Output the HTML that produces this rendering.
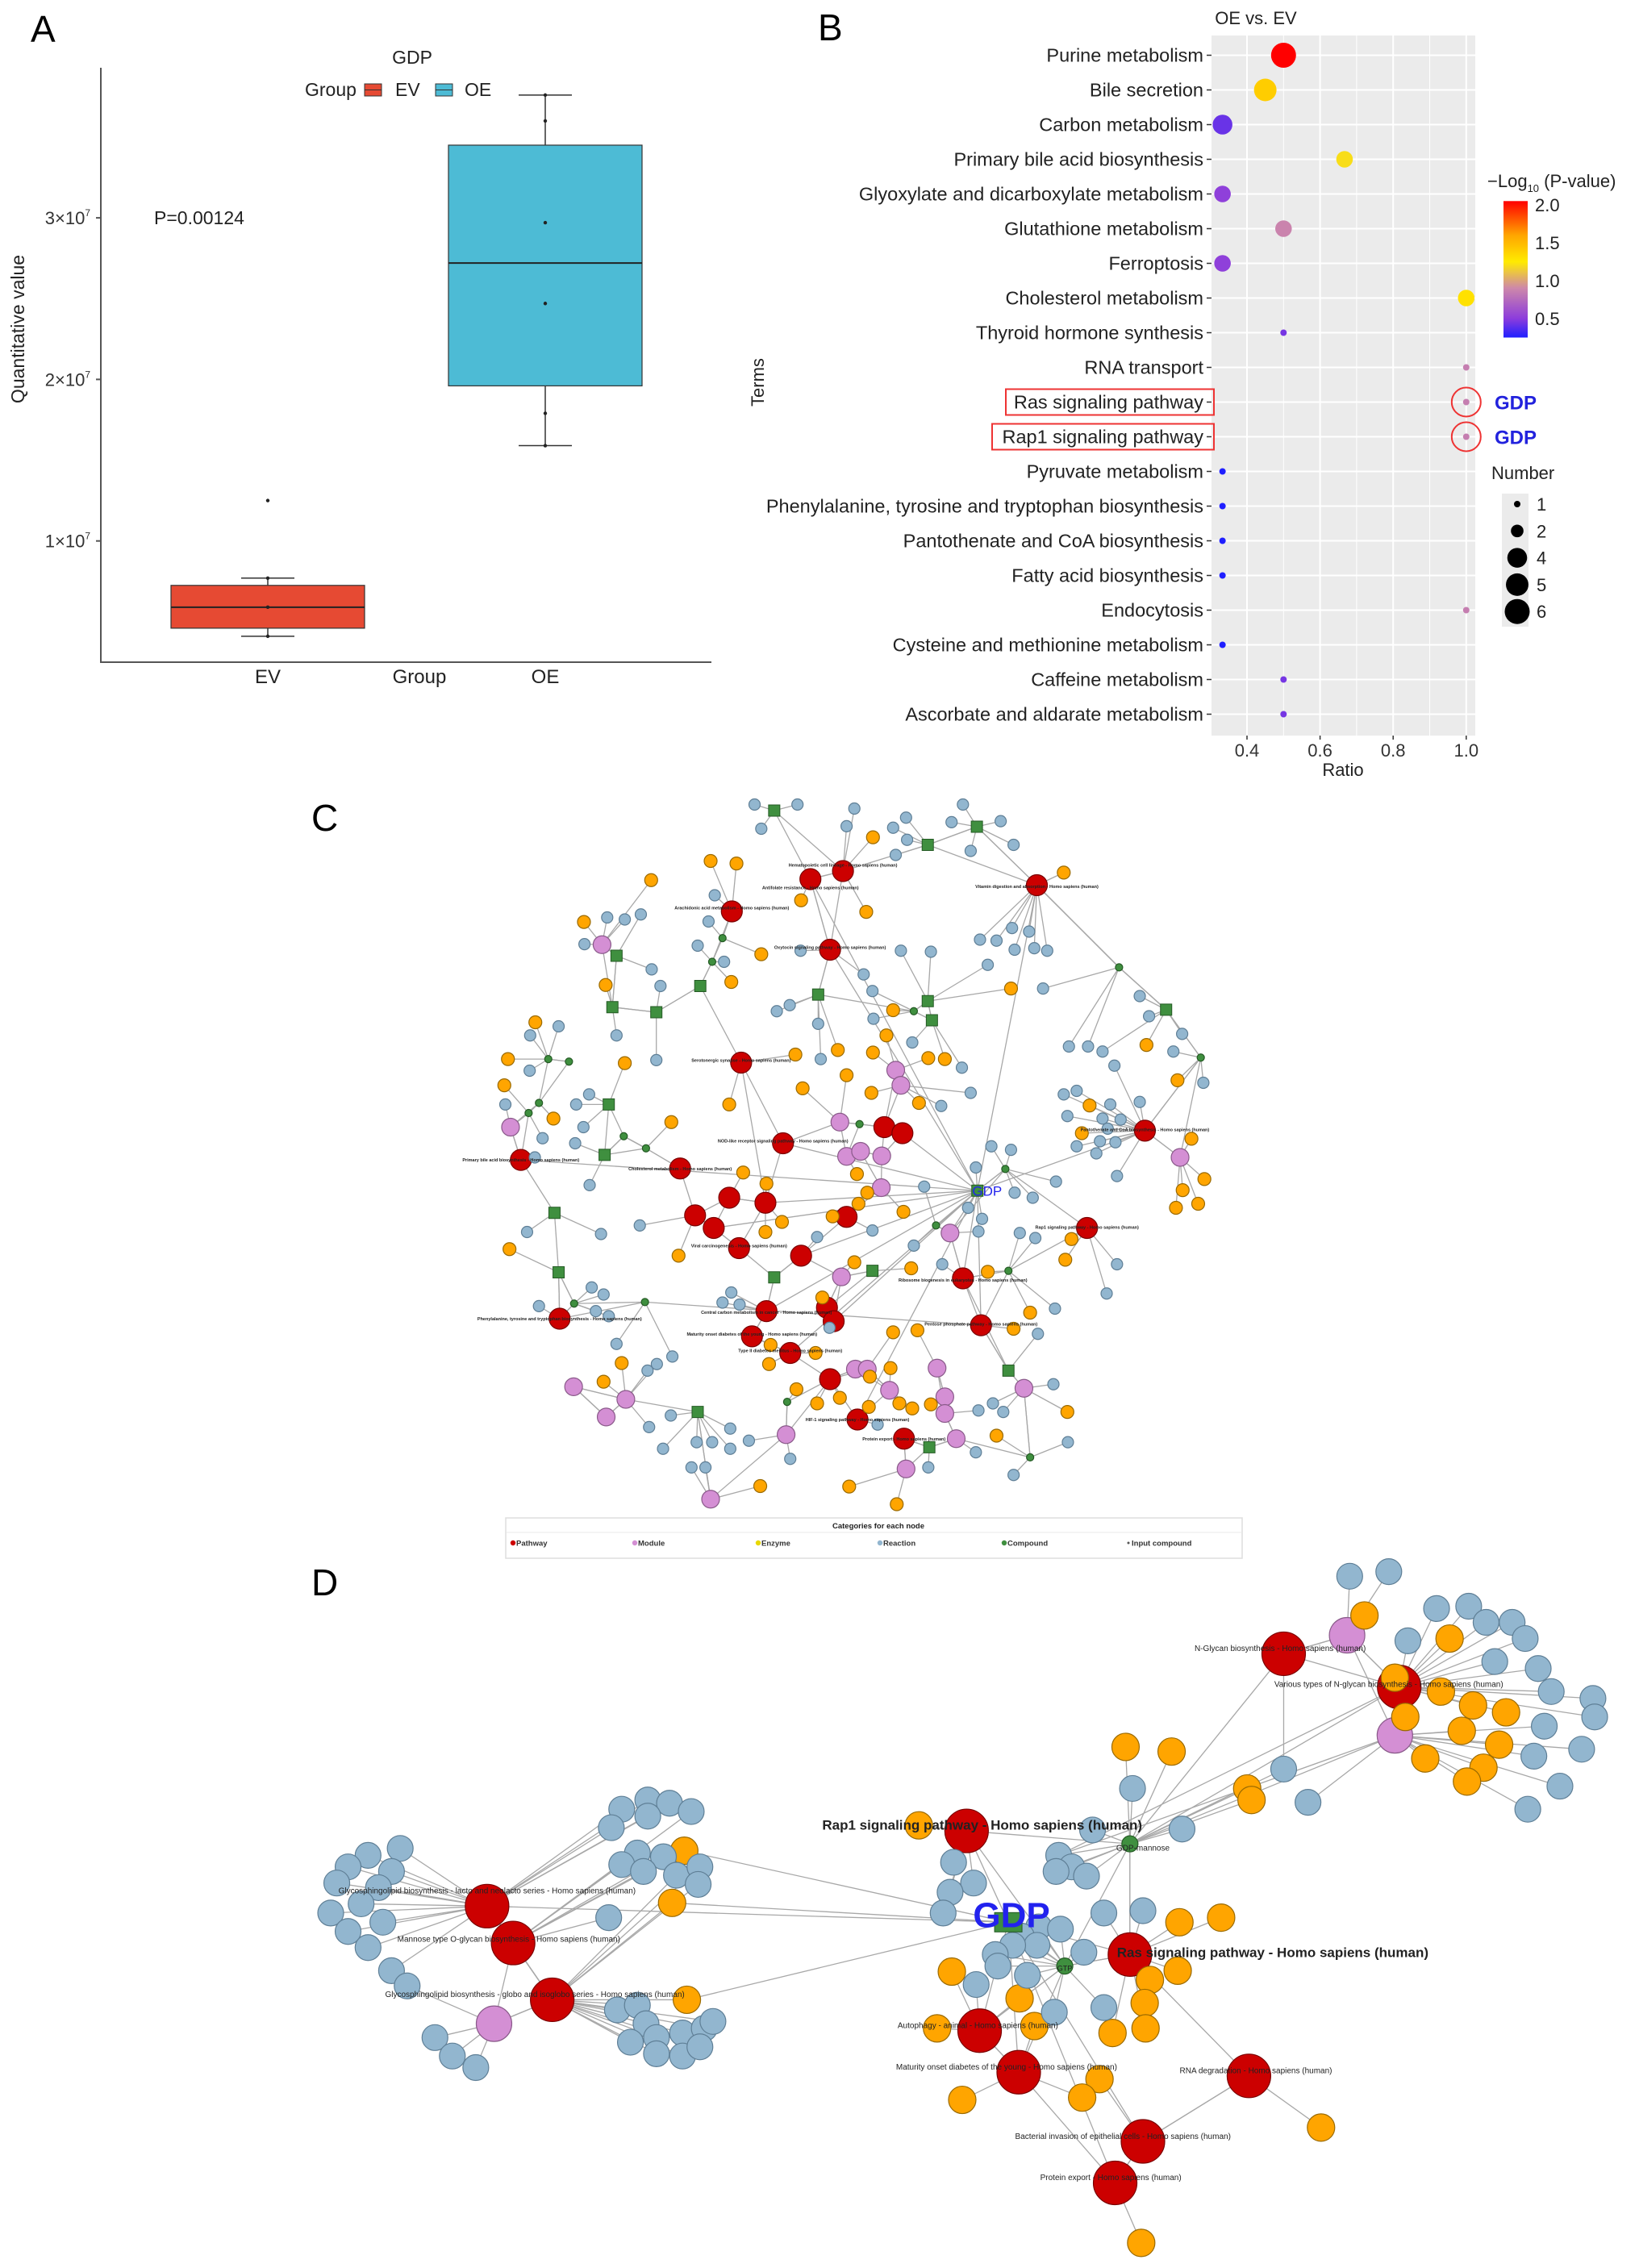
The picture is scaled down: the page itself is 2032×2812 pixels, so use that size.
<!DOCTYPE html>
<html><head><meta charset="utf-8"><style>
html,body{margin:0;padding:0;background:#fff}
svg{display:block;font-family:"Liberation Sans",sans-serif}
</style></head><body>
<svg id="fig" width="2032" height="2812" viewBox="0 0 2032 2812" xmlns="http://www.w3.org/2000/svg">
<rect width="2032" height="2812" fill="#fff"/>
<g id="pA"></g>
<g id="pB"></g>
<g id="pC"></g>
<g id="pD"></g>
</svg>
<script>
// ---------- Panel A data ----------
const groups = ["EV","OE"];
const boxQ1 = [4.6, 19.6];
const boxMedian = [5.9, 27.2];
const boxQ3 = [7.25, 34.5];
const whiskerLow = [4.1, 15.9];
const whiskerHigh = [7.7, 37.6];
const evPoints = [4.1, 5.9, 7.7, 12.5];
const oePoints = [17.9, 24.7, 29.7, 36.0, 37.6, 15.9];
const yTicksA = [10, 20, 30];
const yTickLabelsA = ["1×10", "2×10", "3×10"];

// ---------- Panel B data ----------
const terms = ["Purine metabolism","Bile secretion","Carbon metabolism","Primary bile acid biosynthesis","Glyoxylate and dicarboxylate metabolism","Glutathione metabolism","Ferroptosis","Cholesterol metabolism","Thyroid hormone synthesis","RNA transport","Ras signaling pathway","Rap1 signaling pathway","Pyruvate metabolism","Phenylalanine, tyrosine and tryptophan biosynthesis","Pantothenate and CoA biosynthesis","Fatty acid biosynthesis","Endocytosis","Cysteine and methionine metabolism","Caffeine metabolism","Ascorbate and aldarate metabolism"];
const ratios = [0.5,0.45,0.333,0.667,0.333,0.5,0.333,1.0,0.5,1.0,1.0,1.0,0.333,0.333,0.333,0.333,1.0,0.333,0.5,0.5];
const logP = [2.05,1.4,0.42,1.2,0.52,0.88,0.52,1.3,0.45,0.85,0.85,0.85,0.25,0.25,0.25,0.25,0.85,0.25,0.45,0.45];
const counts = [6,5,4,3,3,3,3,3,1,1,1,1,1,1,1,1,1,1,1,1];
const xTicksB = [0.4,0.6,0.8,1.0];
const xTickLabelsB = ["0.4","0.6","0.8","1.0"];
const cbTicks = [0.5,1.0,1.5,2.0];
const sizeLegend = [1,2,4,5,6];

const NS="http://www.w3.org/2000/svg";
function mk(tag, attrs, parent, text){
  const e=document.createElementNS(NS,tag);
  for(const k in attrs) e.setAttribute(k, attrs[k]);
  if(text!==undefined) e.textContent=text;
  parent.appendChild(e); return e;
}

// ================= PANEL A =================
(function(){
  const g=document.getElementById('pA');
  const yA=v=>871 - v*20.03;
  const xA=i=>[332,676][i];
  let t=mk('text',{x:38,y:52,'font-size':46},g,'A');
   
  let ax=mk('path',{d:'M125 84 V821 H882',fill:'none',stroke:'#555','stroke-width':2},g);
   
  yTicksA.forEach((v,i)=>{
    const tx=mk('text',{x:112,y:yA(v)+8,'font-size':22,'text-anchor':'end',fill:'#333'},g);
     
    tx.textContent=yTickLabelsA[i];
    mk('tspan',{'font-size':12,dy:-10},tx,'7');
    mk('line',{x1:119,x2:125,y1:yA(v),y2:yA(v),stroke:'#555','stroke-width':2},g);
  });
  t=mk('text',{x:30,y:408,'font-size':23,'text-anchor':'middle',fill:'#222',transform:'rotate(-90 30 408)'},g,'Quantitative value');
   
  t=mk('text',{x:191,y:278,'font-size':23,fill:'#222'},g,'P=0.00124');
   
  const fills=['#e64a33','#4dbbd5'];
  groups.forEach((gname,i)=>{
    const x=xA(i);
    const wl=mk('line',{x1:x,x2:x,y1:yA(whiskerLow[i]),y2:yA(whiskerHigh[i]),stroke:'#333','stroke-width':1.5},g);
     
    [whiskerLow[i],whiskerHigh[i]].forEach(v=>mk('line',{x1:x-33,x2:x+33,y1:yA(v),y2:yA(v),stroke:'#333','stroke-width':1.5},g));
    const b=mk('rect',{x:x-120,y:yA(boxQ3[i]),width:240,height:yA(boxQ1[i])-yA(boxQ3[i]),fill:fills[i],stroke:'#333','stroke-width':1.2},g);
     
    mk('line',{x1:x-120,x2:x+120,y1:yA(boxMedian[i]),y2:yA(boxMedian[i]),stroke:'#222','stroke-width':2},g);
    const lab=mk('text',{x:x,y:847,'font-size':24,'text-anchor':'middle',fill:'#222'},g,gname);
     
  });
  evPoints.forEach(v=>{const c=mk('circle',{cx:xA(0),cy:yA(v),r:2.2,fill:'#222'},g);});
  oePoints.forEach(v=>{const c=mk('circle',{cx:xA(1),cy:yA(v),r:2.2,fill:'#222'},g);});
  t=mk('text',{x:520,y:847,'font-size':24,'text-anchor':'middle',fill:'#222'},g,'Group');
   
  t=mk('text',{x:511,y:79,'font-size':23,'text-anchor':'middle',fill:'#222'},g,'GDP');
   
  t=mk('text',{x:378,y:119,'font-size':23,fill:'#222'},g,'Group');
   
  [[452,'#e64a33','EV',490],[540,'#4dbbd5','OE',576]].forEach(a=>{
    const k=mk('rect',{x:a[0],y:104,width:21,height:15,fill:a[1],stroke:'#333'},g);
     
    mk('line',{x1:a[0],x2:a[0]+21,y1:111.5,y2:111.5,stroke:'#333'},g);
    const tt=mk('text',{x:a[3],y:119,'font-size':23,fill:'#222'},g,a[2]);
     
  });
})();

// ================= PANEL B =================
(function(){
  const g=document.getElementById('pB');
  const xB=v=>1546+(v-0.4)*453;
  const yB=i=>68.5+i*43;
  const rB=n=>Math.sqrt(-28.8+44.8*n);
  const stops=[[0.25,[31,31,255]],[0.5,[140,60,220]],[0.9,[205,135,170]],[1.25,[255,235,0]],[1.6,[255,165,0]],[2.05,[255,0,0]]];
  function col(v){
    if(v<=stops[0][0]) return 'rgb('+stops[0][1]+')';
    for(let i=1;i<stops.length;i++){ if(v<=stops[i][0]){const a=stops[i-1],b=stops[i],f=(v-a[0])/(b[0]-a[0]);
      return 'rgb('+a[1].map((c,j)=>Math.round(c+(b[1][j]-c)*f)).join(',')+')';}}
    return 'rgb(255,0,0)';
  }
  let t=mk('text',{x:1014,y:50,'font-size':46},g,'B');
   
  t=mk('text',{x:1557,y:30,'font-size':22,'text-anchor':'middle',fill:'#222'},g,'OE vs. EV');
   
  const bg=mk('rect',{x:1502,y:44,width:327,height:868,fill:'#ebebeb'},g);
   
  [0.3,0.5,0.7,0.9].forEach(v=>mk('line',{x1:xB(v),x2:xB(v),y1:44,y2:912,stroke:'#fff','stroke-width':1},g));
  xTicksB.forEach((v,i)=>{
    mk('line',{x1:xB(v),x2:xB(v),y1:44,y2:912,stroke:'#fff','stroke-width':2},g);
    mk('line',{x1:xB(v),x2:xB(v),y1:912,y2:917,stroke:'#333','stroke-width':1.5},g);
    const tl=mk('text',{x:xB(v),y:938,'font-size':22,'text-anchor':'middle',fill:'#333'},g,xTickLabelsB[i]);
     
  });
  t=mk('text',{x:1665,y:962,'font-size':22,'text-anchor':'middle',fill:'#222'},g,'Ratio');
   
  t=mk('text',{x:947,y:474,'font-size':22,'text-anchor':'middle',fill:'#222',transform:'rotate(-90 947 474)'},g,'Terms');
   
  terms.forEach((term,i)=>{
    const y=yB(i);
    mk('line',{x1:1502,x2:1829,y1:y,y2:y,stroke:'#fff','stroke-width':2},g);
    mk('line',{x1:1496,x2:1502,y1:y,y2:y,stroke:'#333','stroke-width':1.5},g);
    const tl=mk('text',{x:1492,y:y+8,'font-size':23.5,'text-anchor':'end',fill:'#222'},g,term);
     
  });
  terms.forEach((term,i)=>{
    const c=mk('circle',{cx:xB(ratios[i]),cy:yB(i),r:rB(counts[i]),fill:col(logP[i])},g);
     
  });
  [10,11].forEach(i=>{
    const y=yB(i);
    const bx=i===10?1247:1230;
    const r=mk('rect',{x:bx,y:y-16,width:1505-bx,height:32,fill:'none',stroke:'#e33','stroke-width':2},g);
     
    const c=mk('circle',{cx:xB(ratios[i]),cy:y,r:18,fill:'none',stroke:'#e33','stroke-width':2},g);
     
    const gt=mk('text',{x:1853,y:y+9,'font-size':24,'font-weight':'bold',fill:'#2222dd'},g,'GDP');
     
  });
  const defs=mk('defs',{},g);
  const lg=mk('linearGradient',{id:'cbg',x1:0,y1:1,x2:0,y2:0},defs);
  const vmin=0.25,vmax=2.05;
  stops.forEach(s=>mk('stop',{offset:(s[0]-vmin)/(vmax-vmin),'stop-color':'rgb('+s[1]+')'},lg));
  const cbY=v=>395-(v-0.5)*(141/1.5);
  t=mk('text',{x:1844,y:232,'font-size':22,fill:'#222'},g,'−Log');
   
  mk('tspan',{'font-size':13,dy:6},t,'10');
  mk('tspan',{dy:-6},t,' (P-value)');
  const cb=mk('rect',{x:1864,y:cbY(vmax),width:30,height:cbY(vmin)-cbY(vmax),fill:'url(#cbg)'},g);
   
  cbTicks.forEach(v=>{
    const tl=mk('text',{x:1903,y:cbY(v)+8,'font-size':22,fill:'#222'},g,v.toFixed(1));
     
  });
  t=mk('text',{x:1849,y:594,'font-size':22,fill:'#222'},g,'Number');
   
  mk('rect',{x:1862,y:612,width:33,height:165,fill:'#ebebeb'},g);
  sizeLegend.forEach((n,i)=>{
    const y=625+i*33.3;
    const c=mk('circle',{cx:1881,cy:y,r:rB(n),fill:'#000'},g);
     
    const tl=mk('text',{x:1905,y:y+8,'font-size':22,fill:'#222'},g,String(n));
     
  });
})();

// ================= NETWORK helpers =================
const STY={r:['#cc0000','#7a0000'],p:['#d48fd4','#8a5a8a'],o:['#ffa500','#9a6a00'],b:['#92b6cf','#5f7f96'],g:['#3f8f3f','#245a24'],s:['#3f8f3f','#245a24']};
function drawNet(g, nodes, tx, ty, rad, extraEdges, nameP){
  const P=nodes.map(n=>[tx(n[0]),ty(n[1]),n[2]]);
  const hubs=P.map((p,i)=>i).filter(i=>'rpgs'.includes(P[i][2]));
  const eg=mk('g',{stroke:'#a8a8a8','stroke-width':1.3,fill:'none'},g);
   
  const d2=(a,b)=>(P[a][0]-P[b][0])**2+(P[a][1]-P[b][1])**2;
  P.forEach((p,i)=>{
    let cand=hubs.filter(h=>h!==i).sort((a,b)=>d2(i,a)-d2(i,b));
    const k='rpgs'.includes(p[2])?2:1;
    cand.slice(0,k).forEach(h=>mk('line',{x1:p[0],y1:p[1],x2:P[h][0],y2:P[h][1]},eg));
  });
  extraEdges.forEach(e=>mk('line',{x1:e[0],y1:e[1],x2:e[2],y2:e[3]},eg));
  const ng=mk('g',{},g);
   
  P.forEach(p=>{
    const st=STY[p[2]]; const r=rad[p[2]];
    let e;
    if(p[2]==='s') e=mk('rect',{x:p[0]-r,y:p[1]-r,width:2*r,height:2*r,fill:st[0],stroke:st[1]},ng);
    else e=mk('circle',{cx:p[0],cy:p[1],r:r,fill:st[0],stroke:st[1],'stroke-width':1.2},ng);
    
    
  });
  return P;
}
function pts(str,type){return str.trim().split(/\s+/).map(s=>{const a=s.split(',');return [+a[0],+a[1],type];});}

// ================= PANEL C =================
(function(){
  const g=document.getElementById('pC');
  const tx=x=>540+x*0.641, ty=y=>960+y*0.625;
  let t=mk('text',{x:386,y:1030,'font-size':46},g,'C');
   
  const nodes=[].concat(
    pts("725,208 788,192 1163,220 573,272 763,348 591,572 672,732 868,700 903,712 473,782 165,765 568,840 638,850 502,875 538,900 587,940 707,955 795,878 1020,1000 1260,900 1372,707 240,1080 640,1065 757,1058 770,1085 612,1115 686,1148 763,1200 816,1280 906,1318 1055,1093",'r'),
    pts("322,338 145,700 890,587 900,617 782,690 795,758 822,748 863,757 862,820 995,910 1440,760 785,997 267,1215 368,1240 330,1275 812,1180 835,1180 878,1222 970,1178 985,1235 985,1268 1007,1318 678,1310 532,1438 910,1378 1138,1218",'p'),
    pts("532,172 582,177 417,210 287,293 707,250 833,273 630,357 572,412 329,418 1215,195 846,125 1113,425 193,492 140,565 133,617 228,683 366,573 456,690 568,655 696,556 778,547 846,552 885,468 872,518 953,563 985,565 795,597 710,623 843,632 935,652 1375,537 1435,607 1265,657 1250,712 1462,723 1487,803 1445,825 1432,860 1475,852 595,790 640,812 670,888 638,908 768,877 818,852 835,830 815,793 905,868 470,955 143,942 920,980 810,968 1068,987 1230,922 1218,963 748,1038 885,1107 932,1103 1118,1100 1150,1068 648,1132 735,1148 880,1178 360,1168 325,1205 698,1220 738,1248 782,1237 838,1255 897,1248 922,1258 958,1250 1085,1312 1222,1265 628,1412 800,1413 892,1448 645,1170 840,1195",'o'),
    pts("617,60 700,60 630,108 810,68 795,103 885,106 910,86 912,130 890,160 1020,60 998,95 1093,93 1118,140 1035,152 540,240 528,292 507,340 558,372 397,278 366,288 332,284 288,337 418,387 435,420 350,518 427,567 238,500 183,518 182,588 135,655 272,655 297,635 286,700 270,732 207,722 192,760 298,815 177,908 320,912 395,895 706,350 900,350 958,352 828,397 845,430 660,470 685,458 740,495 847,485 922,532 745,565 1018,582 1035,632 978,658 1053,328 1085,330 1115,305 1148,312 1183,350 1068,378 1120,348 1158,345 1175,425 1362,440 1380,480 1444,515 1485,612 1427,550 1225,540 1262,540 1290,550 1313,578 1215,635 1240,628 1305,655 1362,650 1222,678 1290,683 1325,685 1300,703 1285,728 1315,730 1278,752 1240,738 1318,797 1200,808 1075,738 1113,745 1120,830 1155,840 1030,860 1057,882 1050,907 945,818 1045,780 1130,910 1160,920 1318,972 1298,1030 1198,1060 1165,1110 1195,1210 1223,1325 1118,1390 1045,1345 1078,1248 1098,1265 1050,1262 980,972 925,935 845,905 738,918 572,1028 588,1052 555,1048 200,1055 302,1018 325,1032 310,1065 335,1075 350,1130 458,1155 428,1170 410,1183 455,1272 413,1295 440,1338 505,1325 535,1325 570,1298 570,1338 606,1322 686,1358 495,1375 522,1375 953,1375 855,1290 762,1098",'b'),
    pts("555,325 535,372 218,565 258,570 200,652 180,672 364,718 407,742 1102,783 968,895 1322,383 1480,562 820,694 925,470 268,1050 405,1047 680,1245 1150,1355 1108,985",'g'),
    pts("655,72 952,140 1047,104 350,360 342,462 427,472 512,420 740,437 952,450 960,488 335,655 327,755 230,870 238,988 1413,467 1048,826 845,985 655,998 1108,1183 955,1335 507,1265",'s')
  );
  const gx=tx(1048), gy=ty(826);
  const reds=nodes.filter(n=>n[2]==='r');
  const extra=reds.filter((n,i)=>i%2===0).map(n=>[tx(n[0]),ty(n[1]),gx,gy]);
  extra.push([tx(1163),ty(220),tx(952),ty(140)],[tx(1163),ty(220),tx(1322),ty(383)],[tx(1322),ty(383),tx(1413),ty(467)],[tx(405),ty(1047),tx(1055),ty(1093)],[tx(591),ty(572),tx(638),ty(850)],[tx(1108),ty(1183),tx(1020),ty(1000)]);
  drawNet(g,nodes,tx,ty,{r:13,p:11,o:8,b:7,g:4.5,s:7},extra,'c');
  const labs=[[725,225,"Antifolate resistance - Homo sapiens (human)"],[788,180,"Hematopoietic cell lineage - Homo sapiens (human)"],[573,265,"Arachidonic acid metabolism - Homo sapiens (human)"],[763,343,"Oxytocin signaling pathway - Homo sapiens (human)"],[1163,222,"Vitamin digestion and absorption - Homo sapiens (human)"],[591,567,"Serotonergic synapse - Homo sapiens (human)"],[672,727,"NOD-like receptor signaling pathway - Homo sapiens (human)"],[473,782,"Cholesterol metabolism - Homo sapiens (human)"],[165,765,"Primary bile acid biosynthesis - Homo sapiens (human)"],[1372,705,"Pantothenate and CoA biosynthesis - Homo sapiens (human)"],[1260,898,"Rap1 signaling pathway - Homo sapiens (human)"],[1020,1003,"Ribosome biogenesis in eukaryotes - Homo sapiens (human)"],[240,1080,"Phenylalanine, tyrosine and tryptophan biosynthesis - Homo sapiens (human)"],[612,1110,"Maturity onset diabetes of the young - Homo sapiens (human)"],[686,1143,"Type II diabetes mellitus - Homo sapiens (human)"],[1055,1090,"Pentose phosphate pathway - Homo sapiens (human)"],[816,1280,"HIF-1 signaling pathway - Homo sapiens (human)"],[906,1318,"Protein export - Homo sapiens (human)"],[640,1067,"Central carbon metabolism in cancer - Homo sapiens (human)"],[587,935,"Viral carcinogenesis - Homo sapiens (human)"]];
  labs.forEach(l=>{const e=mk('text',{x:tx(l[0]),y:ty(l[1])+2,'font-size':5.5,'text-anchor':'middle',fill:'#222','font-weight':'bold'},g,l[2]);});
  t=mk('text',{x:gx+12,y:gy+6,'font-size':17,fill:'#2222ee','text-anchor':'middle'},g,'GDP');
   
  const lg=mk('g',{},g);  
  mk('rect',{x:627,y:1882,width:913,height:50,fill:'#fff',stroke:'#ddd','stroke-width':1.5},lg);
  mk('line',{x1:627,x2:1540,y1:1900,y2:1900,stroke:'#e8e8e8'},lg);
  mk('text',{x:1089,y:1895,'font-size':9.5,'font-weight':'bold','text-anchor':'middle',fill:'#222'},lg,'Categories for each node');
  [[633,'#cc0000','Pathway'],[784,'#d48fd4','Module'],[937,'#e8d800','Enzyme'],[1088,'#92b6cf','Reaction'],[1242,'#3f8f3f','Compound'],[1396,'#555','Input compound']].forEach(a=>{
    mk('circle',{cx:a[0]+3,cy:1913,r:a[2]==='Input compound'?1.5:3.2,fill:a[1]},lg);
    const e=mk('text',{x:a[0]+7,y:1916.5,'font-size':9.5,'font-weight':'bold',fill:'#333'},lg,a[2]);
     
  });
})();

// ================= PANEL D =================
(function(){
  const g=document.getElementById('pD');
  const tx=x=>340+x*1.077, ty=y=>1920+y*0.572;
  let t=mk('text',{x:386,y:1978,'font-size':46},g,'D');
   
  const nodes=[].concat(
    pts("1162,228 1295,300 245,775 275,855 320,978 797,612 985,880 812,1045 857,1135 1122,1143 1000,1285 968,1375",'r'),
    pts("1235,188 1290,405 253,1030",'p'),
    pts("1255,145 1353,195 1290,280 1343,310 1380,340 1418,355 1302,365 1367,395 1410,425 1325,455 1392,475 1373,505 980,430 1033,440 1120,520 1125,545 742,600 472,655 458,768 475,978 1042,810 1090,800 1040,915 1008,935 1002,985 1003,1040 965,1050 780,917 858,975 875,1035 763,1040 950,1150 930,1190 792,1195 1205,1255 998,1505",'o'),
    pts("1238,60 1283,50 1338,130 1375,125 1395,160 1425,160 1440,195 1305,200 1405,245 1455,260 1470,310 1518,325 1520,365 1462,385 1450,450 1505,435 1480,515 1443,565 1162,478 1190,550 988,520 1045,608 145,650 108,665 135,700 85,690 72,725 120,735 100,770 65,790 125,810 85,830 108,865 135,915 153,948 400,565 430,545 455,552 480,570 388,605 430,580 418,660 448,668 400,685 425,700 463,708 490,690 488,728 385,800 395,1000 418,990 428,1030 440,1060 470,1050 495,1040 505,1025 410,1070 440,1095 470,1100 490,1080 185,1060 205,1100 232,1125 942,610 903,665 918,690 900,700 935,710 782,680 805,725 778,745 770,790 955,790 1000,785 880,820 905,825 860,840 878,860 850,860 830,880 833,905 867,925 932,875 808,945 955,995 898,1005",'b'),
    pts("985,640 910,905",'g')
  );
  const gx=tx(845), gy=ty(810);
  const extra=[];
  nodes.filter(n=>n[2]==='r').forEach(n=>{ if(n[0]>700&&n[0]<1100) extra.push([gx,gy,tx(n[0]),ty(n[1])]); });
  [[472,655],[458,768],[475,978],[245,775]].forEach(n=>extra.push([gx,gy,tx(n[0]),ty(n[1])]));
  [[1162,228],[1295,300],[1290,405],[1120,520],[1162,478]].forEach(n=>extra.push([tx(985),ty(640),tx(n[0]),ty(n[1])]));
  [[1290,405],[1295,300]].forEach(n=>extra.push([tx(903),ty(665),tx(n[0]),ty(n[1])]));
  drawNet(g,nodes,tx,ty,{r:27,p:22,o:17,b:16,g:10,s:10},extra,'d');
  const sq=mk('rect',{x:gx-17,y:gy-12,width:34,height:24,fill:'#3f8f3f',stroke:'#245a24'},g);
   
  const labs=[[1158,215,"N-Glycan biosynthesis - Homo sapiens (human)",10,false],[1283,293,"Various types of N-glycan biosynthesis - Homo sapiens (human)",10,false],[245,740,"Glycosphingolipid biosynthesis - lacto and neolacto series - Homo sapiens (human)",10,false],[270,845,"Mannose type O-glycan biosynthesis - Homo sapiens (human)",10,false],[300,965,"Glycosphingolipid biosynthesis - globo and isoglobo series - Homo sapiens (human)",10,false],[810,1032,"Autophagy - animal - Homo sapiens (human)",10,false],[843,1122,"Maturity onset diabetes of the young - Homo sapiens (human)",10,false],[1130,1130,"RNA degradation - Homo sapiens (human)",10,false],[977,1273,"Bacterial invasion of epithelial cells - Homo sapiens (human)",10,false],[963,1362,"Protein export - Homo sapiens (human)",10,false],[1000,648,"GDP-mannose",10,false],[910,908,"GTP",9,false],[815,602,"Rap1 signaling pathway - Homo sapiens (human)",17,true]];
  labs.forEach(l=>{const e=mk('text',{x:tx(l[0]),y:ty(l[1])+4,'font-size':l[3],'text-anchor':'middle',fill:'#222','font-weight':l[4]?'bold':'normal'},g,l[2]);});
  t=mk('text',{x:tx(970),y:ty(875)+6,'font-size':17,'font-weight':'bold',fill:'#222'},g,'Ras signaling pathway - Homo sapiens (human)');
   
  t=mk('text',{x:gx+4,y:gy+6,'font-size':44,'font-weight':'bold','text-anchor':'middle',fill:'#2222ee'},g,'GDP');
   
})();
</script>
</body></html>
